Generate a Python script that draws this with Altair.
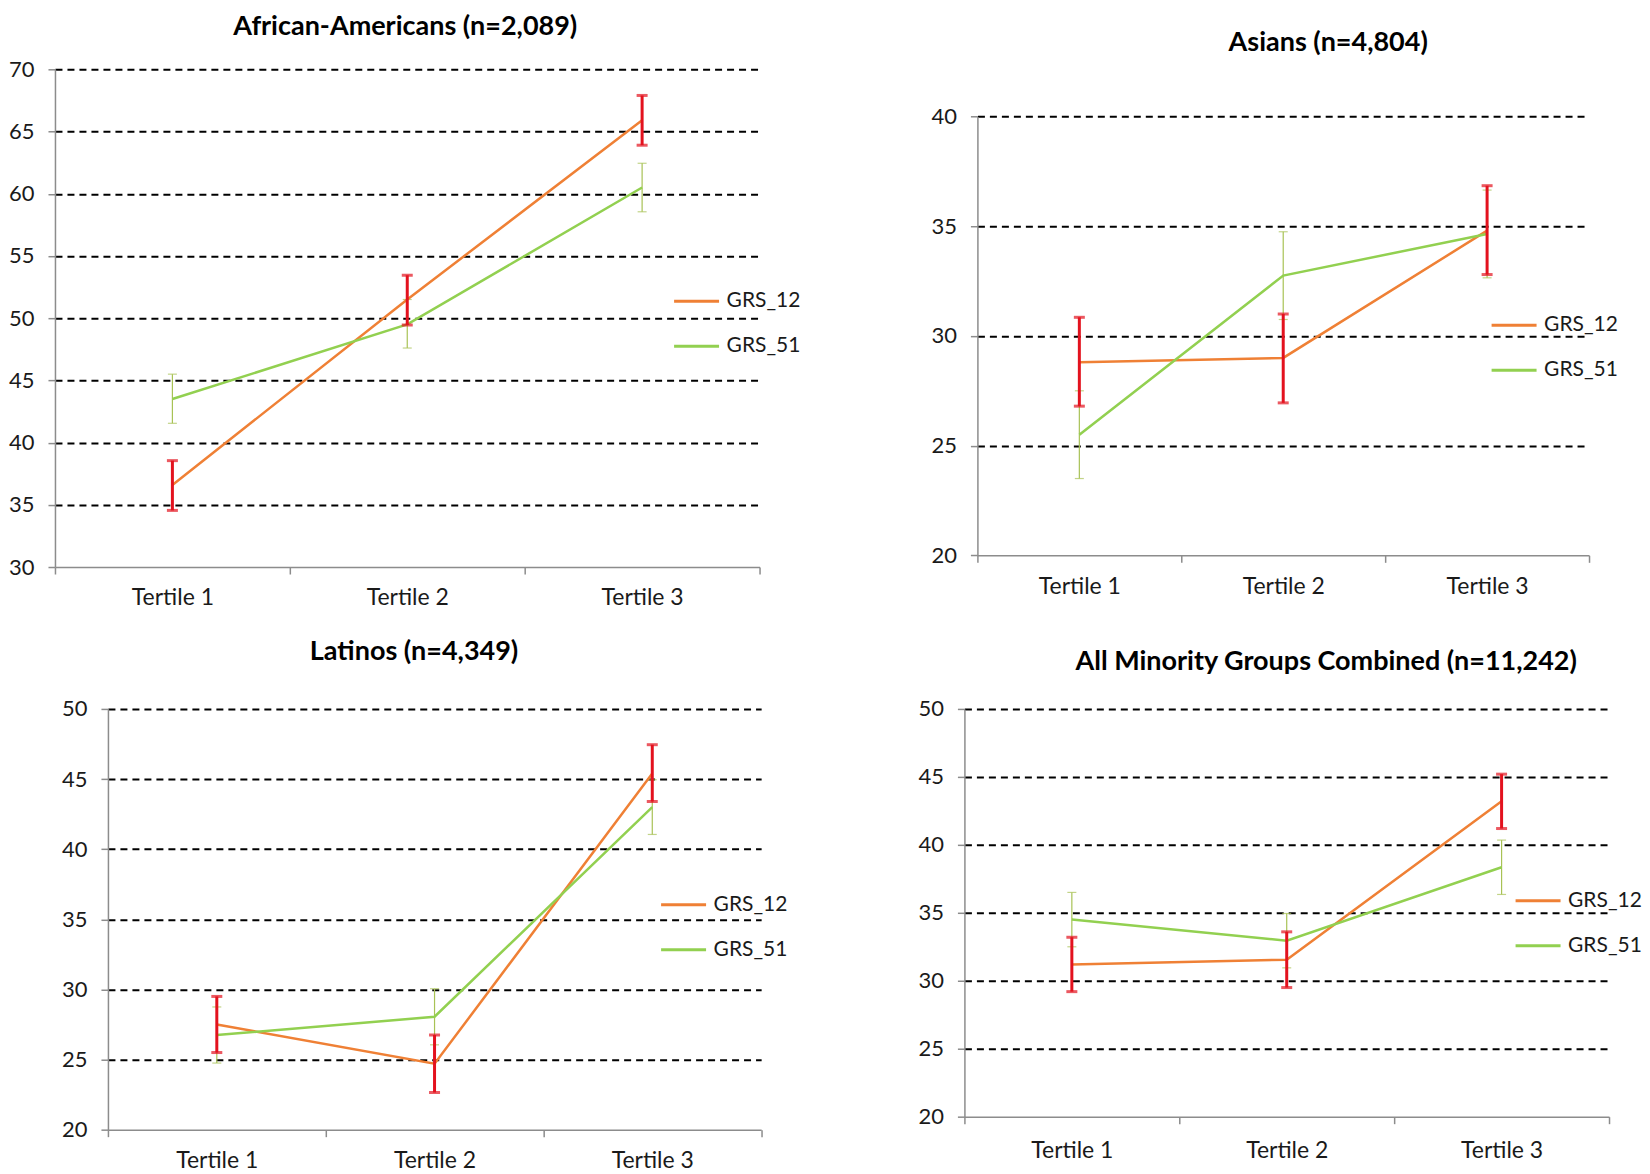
import altair as alt
import pandas as pd

tertiles = ["Tertile 1", "Tertile 2", "Tertile 3"]
series = ["GRS_12", "GRS_51"]

# African-Americans
aa_12_mean = [36.6, 51.5, 65.9]
aa_12_lo = [34.55, 49.45, 63.9]
aa_12_hi = [38.55, 53.45, 67.9]
aa_51_mean = [43.5, 49.5, 60.5]
aa_51_lo = [41.55, 47.6, 58.55]
aa_51_hi = [45.5, 51.5, 62.45]
# Asians
as_12_mean = [28.8, 29.0, 34.8]
as_12_lo = [26.8, 26.95, 32.8]
as_12_hi = [30.85, 31.0, 36.85]
as_51_mean = [25.5, 32.75, 34.65]
as_51_lo = [23.5, 30.75, 32.65]
as_51_hi = [27.5, 34.75, 36.65]
# Latinos
la_12_mean = [27.5, 24.7, 45.4]
la_12_lo = [25.5, 22.65, 43.4]
la_12_hi = [29.5, 26.75, 47.45]
la_51_mean = [26.75, 28.05, 43.0]
la_51_lo = [24.75, 26.05, 41.05]
la_51_hi = [28.75, 30.05, 44.95]
# All minority groups combined
all_12_mean = [31.2, 31.55, 43.2]
all_12_lo = [29.2, 29.5, 41.2]
all_12_hi = [33.2, 33.6, 45.2]
all_51_mean = [34.5, 32.95, 38.35]
all_51_lo = [32.5, 30.95, 36.35]
all_51_hi = [36.5, 34.95, 40.35]

aa_ticks = [30, 35, 40, 45, 50, 55, 60, 65, 70]
as_ticks = [20, 25, 30, 35, 40]
la_ticks = [20, 25, 30, 35, 40, 45, 50]
all_ticks = [20, 25, 30, 35, 40, 45, 50]

ORANGE = "#EF8035"
GREEN = "#92D050"
RED = "#E3121E"
OLIVE = "#A8C255"
AXIS_GRAY = "#8C8C8C"
FONT = "Lato"


def make_df(m12, lo12, hi12, m51, lo51, hi51):
    rows = []
    for s, m, lo, hi in (("GRS_12", m12, lo12, hi12), ("GRS_51", m51, lo51, hi51)):
        for t, a, b, c in zip(tertiles, m, lo, hi):
            rows.append({"series": s, "tertile": t, "value": a, "lo": b, "hi": c})
    return pd.DataFrame(rows)


def panel(df, title, ticks, w, h, lx, ly, toff, tdx, xrange=None, yrange=None,
          yoff=0, xlabpad=13):
    xs = dict(type="band", paddingInner=0, paddingOuter=0)
    if xrange is not None:
        xs["range"] = xrange
    xenc = alt.X(
        "tertile:N", sort=tertiles, scale=alt.Scale(**xs),
        axis=alt.Axis(title=None, labelAngle=0, tickBand="extent",
                      domainColor=AXIS_GRAY, domainWidth=1.5,
                      tickColor=AXIS_GRAY, tickWidth=1.5, tickSize=7,
                      labelPadding=xlabpad, labelFont=FONT, labelFontSize=23,
                      labelColor="#1a1a1a", grid=False),
    )
    yax = dict(
        title=None, values=ticks, grid=True,
        gridColor={"condition": {"test": f"datum.value <= {ticks[0]}", "value": "transparent"},
                   "value": "black"},
        gridDash=[7, 5], gridWidth=2,
        domainColor=AXIS_GRAY, domainWidth=1.5, tickColor=AXIS_GRAY,
        tickWidth=1.5, tickSize=7, labelPadding=14, labelFont=FONT,
        labelFontSize=22, labelColor="#1a1a1a",
        minExtent=45, maxExtent=45,
    )
    if yoff:
        yax["offset"] = yoff
    yaxis = alt.Axis(**yax)
    ys = dict(domain=[ticks[0], ticks[-1]], nice=False, zero=False)
    if yrange is not None:
        ys["range"] = yrange
    yscale = alt.Scale(**ys)
    base = alt.Chart(df)
    lines = base.mark_line(strokeWidth=2.5).encode(
        x=xenc,
        y=alt.Y("value:Q", scale=yscale, axis=yaxis),
        color=alt.Color(
            "series:N",
            scale=alt.Scale(domain=series, range=[ORANGE, GREEN]),
            legend=alt.Legend(orient="none", legendX=lx, legendY=ly, title=None,
                              symbolType="stroke", symbolStrokeWidth=3,
                              symbolSize=2025, labelFont=FONT, labelFontSize=21,
                              labelColor="#1a1a1a", labelOffset=6, rowPadding=11,
                              padding=0),
        ),
    )
    err51 = base.transform_filter(alt.datum.series == "GRS_51").mark_errorbar(
        color=OLIVE, thickness=1.2, size=9, ticks=True
    ).encode(x=xenc, y=alt.Y("lo:Q", scale=yscale, axis=yaxis), y2="hi:Q")
    err12 = base.transform_filter(alt.datum.series == "GRS_12").mark_errorbar(
        color=RED, thickness=3, size=11, ticks=True
    ).encode(x=xenc, y=alt.Y("lo:Q", scale=yscale, axis=yaxis), y2="hi:Q")
    return alt.layer(err51, lines, err12).properties(
        width=w, height=h,
        title=alt.TitleParams(text=title, font=FONT, fontSize=27, fontWeight="bold",
                              color="black", anchor="middle", frame="group",
                              offset=toff, dx=tdx),
    )


p1 = panel(make_df(aa_12_mean, aa_12_lo, aa_12_hi, aa_51_mean, aa_51_lo, aa_51_hi),
           "African-Americans (n=2,089)", aa_ticks, 705, 498, 618, 208, 17.5, -2)
p2 = panel(make_df(as_12_mean, as_12_lo, as_12_hi, as_51_mean, as_51_lo, as_51_hi),
           "Asians (n=4,804)", as_ticks, 612, 486.3, 513, 232, 12, 45,
           yrange=[486.3, 47.3])
p3 = panel(make_df(la_12_mean, la_12_lo, la_12_hi, la_51_mean, la_51_lo, la_51_hi),
           "Latinos (n=4,349)", la_ticks, 706.6, 421, 605, 172, 32, 6,
           xrange=[53, 706.6], yoff=-53)
p4 = panel(make_df(all_12_mean, all_12_lo, all_12_hi, all_51_mean, all_51_lo, all_51_hi),
           "All Minority Groups Combined (n=11,242)", all_ticks, 645, 408, 550, 168, 21.5, 39.5,
           xlabpad=16)

row1 = alt.hconcat(p1, p2, spacing=130).resolve_scale(color="independent").resolve_legend(color="independent")
row2 = alt.hconcat(p3, p4, spacing=130).resolve_scale(color="independent").resolve_legend(color="independent")
chart = (
    alt.vconcat(row1, row2, spacing=28)
    .resolve_scale(color="independent")
    .resolve_legend(color="independent")
    .properties(padding={"top": 4, "left": 0, "right": 0, "bottom": 0})
    .configure_view(strokeWidth=0)
)

chart.save("out.html", embed_options={"renderer": "svg", "actions": False})
